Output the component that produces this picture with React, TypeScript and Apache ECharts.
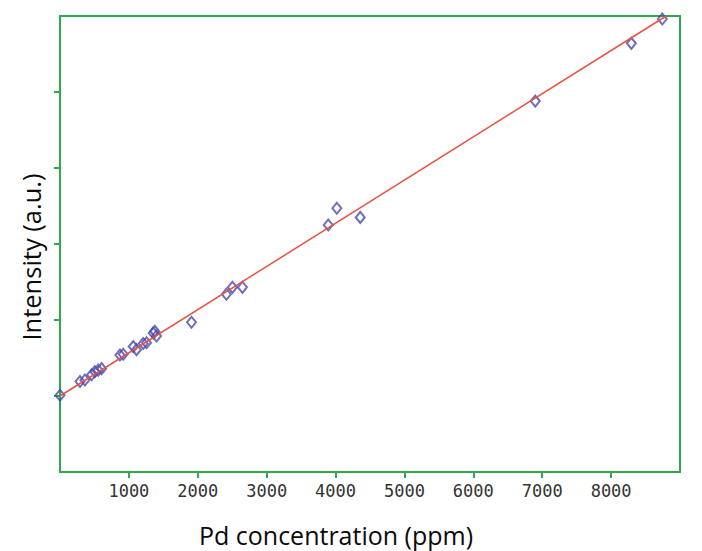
import React, { useEffect, useRef } from "react";
import * as echarts from "echarts";

const concentrations = [
  0, 290, 362, 459, 507, 555, 604, 870, 918, 1063, 1111, 1208, 1256, 1353, 1377, 1401,
  1909, 2416, 2503, 2648, 3894, 4019, 4358, 6899, 8294, 8743,
];
const intensities = [
  1.01, 1.19, 1.21, 1.28, 1.32, 1.34, 1.36, 1.54, 1.55, 1.65, 1.61, 1.69, 1.70, 1.83, 1.85, 1.79,
  1.97, 2.34, 2.43, 2.43, 3.25, 3.47, 3.35, 4.88, 5.64, 5.96,
];
const fitX = [0, 8800];
const fitY = [1.0, 6.0];
const xTicks = [1000, 2000, 3000, 4000, 5000, 6000, 7000, 8000];
const yTicks = [1, 2, 3, 4, 5];
const xTitle = "Pd concentration (ppm)";
const yTitle = "Intensity (a.u.)";

const GREEN = "#2fa84f";

export default function App() {
  const ref = useRef<HTMLDivElement>(null);
  useEffect(() => {
    if (!ref.current) return;
    const chart = echarts.init(ref.current, null, { renderer: "svg" });
    chart.setOption({
      animation: false,
      backgroundColor: "#ffffff",
      grid: {
        left: 60,
        top: 16,
        right: 22,
        bottom: 79,
        show: true,
        borderColor: GREEN,
        borderWidth: 2,
        backgroundColor: "transparent",
      },
      graphic: [
        {
          type: "text",
          x: 336,
          y: 535,
          style: {
            text: xTitle,
            fontFamily: "Open Sans",
            fontSize: 25,
            fill: "#0a0a0a",
            align: "center",
            verticalAlign: "middle",
          },
        },
        {
          type: "text",
          x: 31,
          y: 257,
          rotation: Math.PI / 2,
          style: {
            text: yTitle,
            fontFamily: "Open Sans",
            fontSize: 25.5,
            fill: "#0a0a0a",
            align: "center",
            verticalAlign: "middle",
          },
        },
      ],
      xAxis: {
        type: "value",
        min: 0,
        max: 9000,
        interval: 1000,
        axisLine: { show: true, lineStyle: { color: GREEN, width: 2 } },
        axisTick: {
          show: true,
          length: 6,
          inside: false,
          customValues: xTicks,
          lineStyle: { color: GREEN, width: 2 },
        },
        axisLabel: {
          customValues: xTicks,
          formatter: (v: number) => String(v),
          fontFamily: "DejaVu Sans Mono",
          fontSize: 17,
          color: "#333333",
          margin: 10,
        },
        splitLine: { show: false },
      },
      yAxis: {
        type: "value",
        min: 0,
        max: 6,
        interval: 1,
        axisLine: { show: true, lineStyle: { color: GREEN, width: 2 } },
        axisTick: {
          show: true,
          length: 6,
          customValues: yTicks,
          lineStyle: { color: GREEN, width: 2 },
        },
        axisLabel: { show: false },
        splitLine: { show: false },
      },
      series: [
        {
          type: "scatter",
          data: concentrations.map((c, i) => [c, intensities[i]]),
          symbol: "diamond",
          symbolSize: [9, 11],
          itemStyle: { color: "transparent", borderColor: "#4a4aae", borderWidth: 2 },
          z: 2,
        },
        {
          type: "line",
          data: fitX.map((x, i) => [x, fitY[i]]),
          symbol: "none",
          lineStyle: { color: "#e8503f", width: 1.5 },
          z: 3,
        },
      ],
    });
    return () => chart.dispose();
  }, []);
  return (
    <div
      ref={ref}
      style={{ position: "fixed", left: 0, top: 0, width: 702, height: 551, background: "#fff" }}
    />
  );
}
